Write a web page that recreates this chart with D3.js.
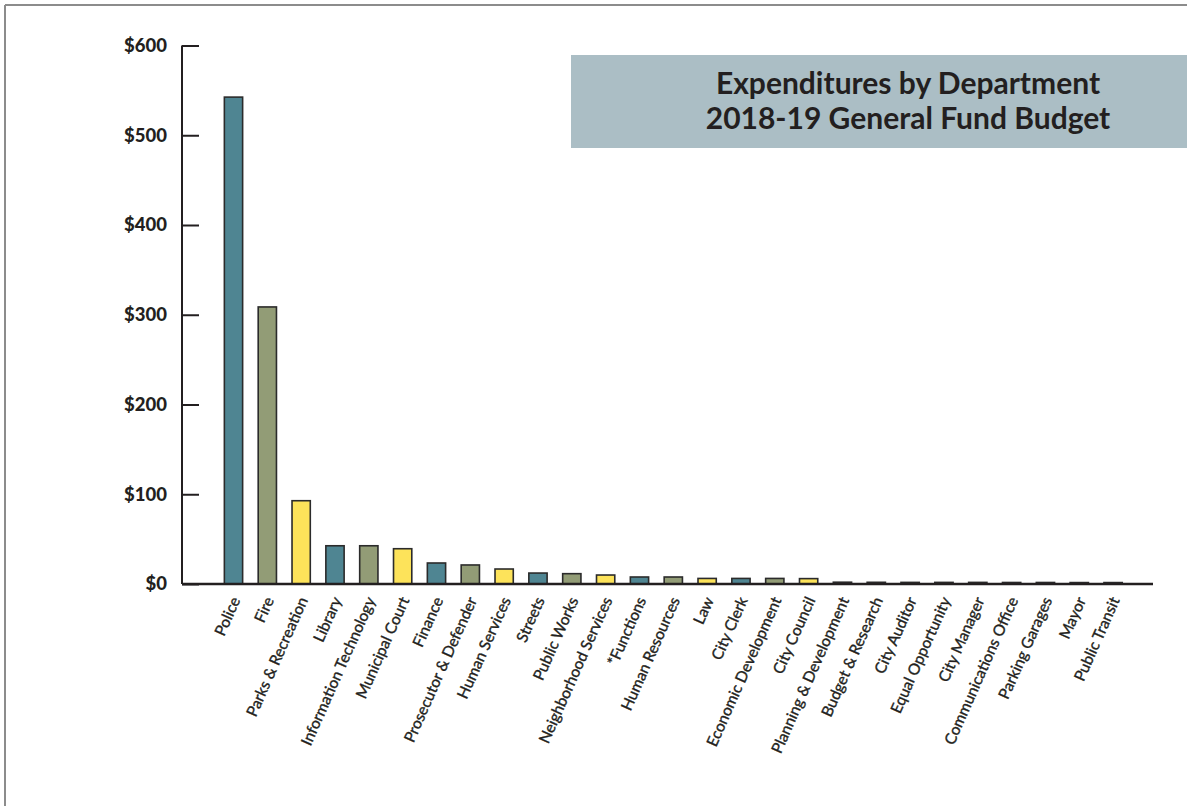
<!DOCTYPE html>
<html>
<head>
<meta charset="utf-8">
<script src="https://cdn.jsdelivr.net/npm/d3@7"></script>
<style>
  html, body { margin: 0; padding: 0; background: #fff; }
  svg { display: block; }
</style>
</head>
<body>
<svg id="chart" width="1187" height="806"></svg>
<script>
// General Fund expenditures by department, millions of dollars
const departments = [
  "Police", "Fire", "Parks & Recreation", "Library", "Information Technology",
  "Municipal Court", "Finance", "Prosecutor & Defender", "Human Services", "Streets",
  "Public Works", "Neighborhood Services", "*Functions", "Human Resources", "Law",
  "City Clerk", "Economic Development", "City Council", "Planning & Development",
  "Budget & Research", "City Auditor", "Equal Opportunity", "City Manager",
  "Communications Office", "Parking Garages", "Mayor", "Public Transit"
];
const expenditures = [
  542.5, 308.7, 92.8, 42.6, 42.6,
  39.3, 23.4, 21.2, 16.7, 12.2,
  11.5, 10.0, 7.8, 7.8, 6.2,
  6.2, 6.2, 6.0, 2.0,
  1.9, 1.8, 1.8, 1.8,
  1.7, 1.7, 1.6, 1.6
];
const yTicks = [0, 100, 200, 300, 400, 500, 600];
const palette = ["#4f8592", "#929c76", "#fde35a"];
const titleLines = ["Expenditures by Department", "2018-19 General Fund Budget"];

const svg = d3.select("#chart");

// page frame
svg.append("line").attr("x1", 5).attr("x2", 1187).attr("y1", 5).attr("y2", 5)
  .attr("stroke", "#8c8c8c").attr("stroke-width", 2);
svg.append("line").attr("x1", 5).attr("x2", 5).attr("y1", 5).attr("y2", 806)
  .attr("stroke", "#8c8c8c").attr("stroke-width", 2);

const axisX = 182, axisEnd = 1153;
const x = d3.scaleBand().domain(departments).range([208.8, 1137.8]).padding(0.46);
const y = d3.scaleLinear().domain([0, 600]).range([584, 45.5]);

// title panel
svg.append("rect").attr("x", 571).attr("y", 55).attr("width", 616).attr("height", 93)
  .attr("fill", "#abbec5");
svg.append("g").selectAll("text").data(titleLines).join("text")
  .attr("x", 908).attr("y", (d, i) => 94 + i * 35)
  .attr("text-anchor", "middle")
  .attr("font-family", "Lato, sans-serif").attr("font-weight", 700)
  .attr("font-size", 30).attr("fill", "#231f20")
  .text(d => d);

// y axis
const yAxis = svg.append("g").attr("transform", `translate(${axisX},0)`)
  .call(d3.axisRight(y).tickValues(yTicks).tickSize(17).tickFormat(d => "$" + d));
yAxis.select(".domain").attr("stroke", "#231f20").attr("stroke-width", 2)
  .attr("d", `M0,${y(600)}V${y(0)}`);
yAxis.selectAll(".tick line").attr("stroke", "#231f20").attr("stroke-width", 2);
yAxis.selectAll(".tick text")
  .attr("x", -15).attr("text-anchor", "end")
  .attr("font-family", "Lato, sans-serif").attr("font-weight", 900)
  .attr("font-size", 18.5).attr("fill", "#231f20");

// bars
svg.append("g").selectAll("rect").data(departments).join("rect")
  .attr("x", d => x(d))
  .attr("y", (d, i) => y(expenditures[i]))
  .attr("width", x.bandwidth())
  .attr("height", (d, i) => y(0) - y(expenditures[i]))
  .attr("fill", (d, i) => palette[i % 3])
  .attr("stroke", "#2b2b2b").attr("stroke-width", 1.6);

// x axis
const xAxis = svg.append("g").attr("transform", `translate(0,${y(0)})`)
  .call(d3.axisBottom(x).tickSize(0));
xAxis.select(".domain").attr("stroke", "#231f20").attr("stroke-width", 2.5)
  .attr("d", `M${axisX},0H${axisEnd}`);
xAxis.selectAll(".tick text")
  .attr("font-family", "Lato, sans-serif").attr("font-size", 15.5)
  .attr("fill", "#231f20").attr("stroke", "#231f20").attr("stroke-width", 0.35)
  .attr("text-anchor", "end")
  .attr("x", 0).attr("y", 0).attr("dy", 0)
  .attr("transform", "translate(7,16) rotate(-66)");
</script>
</body>
</html>
